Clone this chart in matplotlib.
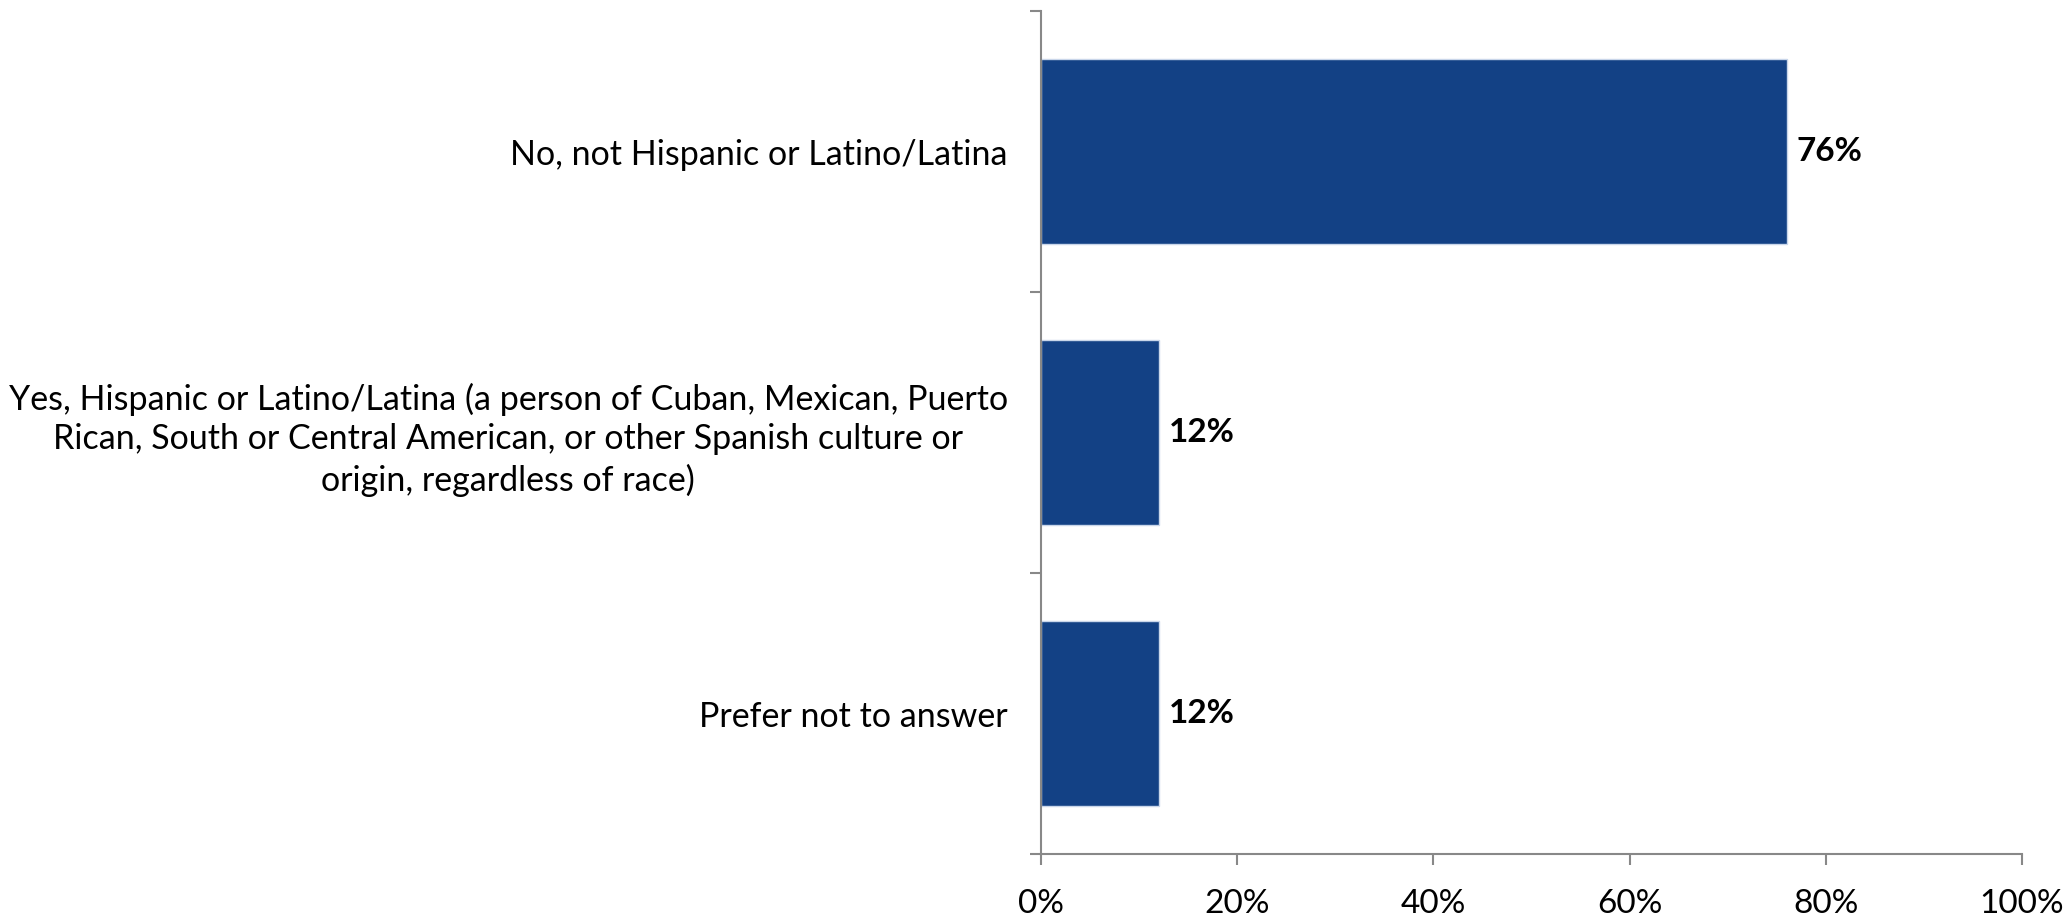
import matplotlib.pyplot as plt
from matplotlib.ticker import FuncFormatter

categories = [
    "No, not Hispanic or Latino/Latina",
    "Yes, Hispanic or Latino/Latina (a person of Cuban, Mexican, Puerto\n"
    "Rican, South or Central American, or other Spanish culture or\n"
    "origin, regardless of race)",
    "Prefer not to answer",
]
values = [76, 12, 12]
x_ticks = [0, 20, 40, 60, 80, 100]

plt.rcParams["font.family"] = ["Lato", "DejaVu Sans"]

fig = plt.figure(figsize=(20.64, 9.19), dpi=100)
ax = fig.add_axes([0.5044, 0.0707, 0.4753, 0.9173])

pos = list(range(len(categories)))
ax.barh(pos, values, height=0.66, color="#134185", edgecolor="#c9d6ea", linewidth=1)

for p, v in zip(pos, values):
    ax.text(v + 1.0, p, "{}%".format(v), va="center", ha="left",
            fontsize=24, fontweight="bold", color="black")

ax.set_xlim(0, 100)
ax.set_ylim(len(categories) - 0.5, -0.5)
ax.set_xticks(x_ticks)
ax.xaxis.set_major_formatter(FuncFormatter(lambda x, _: "{:.0f}%".format(x)))

# category boundaries get the tick marks, labels sit between them
ax.set_yticks([p - 0.5 for p in pos] + [len(categories) - 0.5])
ax.set_yticklabels([])
ax.set_yticks(pos, minor=True)
ax.set_yticklabels(categories, minor=True, ha="right", multialignment="center",
                   linespacing=1.3)
ax.tick_params(axis="y", which="minor", length=0, pad=24, labelsize=24.5)
ax.tick_params(axis="y", which="major", length=8, width=1.5, color="#888888", direction="out")
ax.tick_params(axis="x", length=8, width=1.5, color="#888888", direction="out",
               labelsize=24, pad=17)

for s in ["top", "right"]:
    ax.spines[s].set_visible(False)
for s in ["left", "bottom"]:
    ax.spines[s].set_color("#888888")
    ax.spines[s].set_linewidth(1.5)

fig.savefig("out.png", dpi=100)
plt.close()
